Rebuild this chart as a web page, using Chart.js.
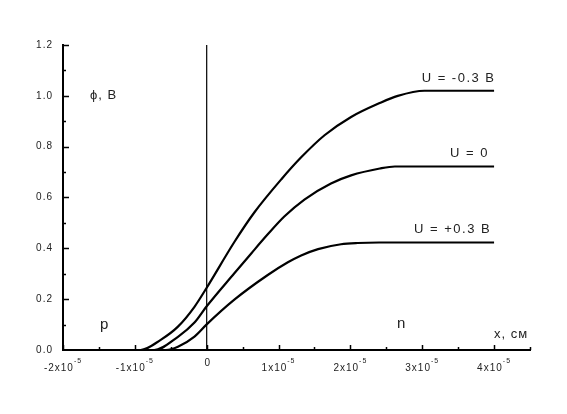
<!DOCTYPE html>
<html>
<head>
<meta charset="utf-8">
<script src="https://cdn.jsdelivr.net/npm/chart.js@4/dist/chart.umd.min.js"></script>
<style>
  html, body { margin: 0; padding: 0; background: #fff; }
  #wrap { width: 567px; height: 414px; }
</style>
</head>
<body>
<div id="wrap"><canvas id="phiChart"></canvas></div>
<script>
// x in cm, phi in V
const xMinus = [-2e-5, -0.92e-5, -0.64e-5, -0.4e-5, -0.17e-5, 0, 0.385e-5, 0.66e-5, 1.04e-5, 1.315e-5, 1.64e-5, 2.01e-5, 2.41e-5, 2.66e-5, 3.03e-5, 4e-5];
const phiMinus = [0, 0, 0.04, 0.092, 0.17, 0.245, 0.425, 0.54, 0.672, 0.758, 0.845, 0.917, 0.972, 1.0, 1.02, 1.02];

const xZero = [-2e-5, -0.73e-5, -0.4e-5, -0.17e-5, 0, 0.385e-5, 0.62e-5, 0.85e-5, 1.08e-5, 1.36e-5, 1.73e-5, 2.01e-5, 2.41e-5, 2.62e-5, 4e-5];
const phiZero = [0, 0, 0.052, 0.108, 0.172, 0.302, 0.38, 0.455, 0.525, 0.592, 0.655, 0.687, 0.714, 0.722, 0.722];

const xPlus = [-2e-5, -0.57e-5, -0.4e-5, -0.17e-5, 0, 0.385e-5, 0.85e-5, 1.13e-5, 1.315e-5, 1.55e-5, 1.87e-5, 2.1e-5, 2.4e-5, 4e-5];
const phiPlus = [0, 0, 0.013, 0.053, 0.101, 0.198, 0.295, 0.345, 0.372, 0.397, 0.416, 0.421, 0.423, 0.423];

const junctionX = [0, 0];
const junctionPhi = [0, 1.2];

const curveLabels = ['U = -0.3 В', 'U = 0', 'U = +0.3 В'];
const xTicks = [-2e-5, -1e-5, 0, 1e-5, 2e-5, 3e-5, 4e-5];
const xTickMantissa = ['-2', '-1', '0', '1', '2', '3', '4'];
const xTickExp = '-5';

const FONT = "Arial, 'Liberation Sans', sans-serif";

function pts(xs, ys) {
  return xs.map((v, i) => ({ x: v, y: ys[i] }));
}

function curve(xs, ys) {
  return {
    data: pts(xs, ys),
    showLine: true,
    borderColor: '#000',
    borderWidth: 2.2,
    pointRadius: 0,
    cubicInterpolationMode: 'monotone',
    fill: false
  };
}

const axisExtras = {
  id: 'axisExtras',
  beforeDraw(chart) {
    chart.ctx.letterSpacing = '1px';
  },
  afterDraw(chart) {
    const ctx = chart.ctx;
    const xs = chart.scales.x;
    const ys = chart.scales.y;
    const left = chart.chartArea.left;
    const bottom = chart.chartArea.bottom;
    ctx.save();
    ctx.strokeStyle = '#000';
    ctx.lineWidth = 1.5;
    ctx.beginPath();
    // inward ticks on x
    for (let k = -4; k <= 9; k++) {
      const px = Math.round(xs.getPixelForValue(k * 0.5e-5)) + 0.5;
      const len = k % 2 === 0 ? 5 : 3;
      ctx.moveTo(px, bottom);
      ctx.lineTo(px, bottom - len);
    }
    // inward ticks on y
    for (let k = 1; k <= 12; k++) {
      const py = Math.round(ys.getPixelForValue(k * 0.1)) + 0.5;
      const len = k % 2 === 0 ? 6 : 3;
      ctx.moveTo(left, py);
      ctx.lineTo(left + len, py);
    }
    ctx.stroke();

    // x tick labels with exponent
    ctx.fillStyle = '#222';
    ctx.letterSpacing = '1px';
    ctx.textBaseline = 'alphabetic';
    ctx.textAlign = 'left';
    xTicks.forEach((v, i) => {
      const px = xs.getPixelForValue(v);
      if (v === 0) {
        ctx.font = '10px ' + FONT;
        const w = ctx.measureText('0').width;
        ctx.fillText('0', px - w / 2 + 1, 366);
        return;
      }
      const main = xTickMantissa[i] + 'x10';
      ctx.font = '10px ' + FONT;
      const wm = ctx.measureText(main).width;
      ctx.font = '7px ' + FONT;
      const we = ctx.measureText(xTickExp).width;
      const start = px - (wm + we) / 2;
      ctx.font = '10px ' + FONT;
      ctx.fillText(main, start, 371);
      ctx.font = '7px ' + FONT;
      ctx.fillText(xTickExp, start + wm, 363);
    });

    // curve labels, right aligned above each plateau
    const plateaus = [phiMinus[phiMinus.length - 1], phiZero[phiZero.length - 1], phiPlus[phiPlus.length - 1]];
    const rightEdges = [4.02e-5, 3.93e-5, 3.96e-5];
    ctx.font = '13px ' + FONT;
    ctx.letterSpacing = '1.5px';
    ctx.textAlign = 'right';
    curveLabels.forEach((t, i) => {
      ctx.fillText(t, xs.getPixelForValue(rightEdges[i]), ys.getPixelForValue(plateaus[i]) - 9);
    });

    // axis titles and region names
    ctx.textAlign = 'left';
    ctx.letterSpacing = '1px';
    ctx.font = '13px ' + FONT;
    ctx.fillText('ϕ, В', 90, 99);
    ctx.fillText('x, см', 494, 338);
    ctx.font = '15px ' + FONT;
    ctx.fillText('p', 100, 329);
    ctx.fillText('n', 397, 328);
    ctx.restore();
  }
};

new Chart(document.getElementById('phiChart'), {
  type: 'scatter',
  data: {
    datasets: [
      curve(xMinus, phiMinus),
      curve(xZero, phiZero),
      curve(xPlus, phiPlus),
      {
        data: pts(junctionX, junctionPhi),
        showLine: true,
        borderColor: '#000',
        borderWidth: 1.2,
        pointRadius: 0
      }
    ]
  },
  options: {
    responsive: true,
    maintainAspectRatio: false,
    animation: false,
    layout: { padding: { top: 45, right: 37, left: 0, bottom: 0 } },
    plugins: {
      legend: { display: false },
      tooltip: { enabled: false }
    },
    scales: {
      x: {
        type: 'linear',
        min: -2e-5,
        max: 4.5e-5,
        grid: { display: false },
        border: { color: '#000', width: 2 },
        ticks: { display: false },
        afterFit: s => { s.height = 64; }
      },
      y: {
        min: 0,
        max: 1.2,
        grid: { display: false, drawTicks: false },
        border: { color: '#000', width: 2 },
        ticks: {
          stepSize: 0.2,
          color: '#222',
          padding: 10,
          font: { size: 10, family: FONT },
          callback: v => v.toFixed(1)
        },
        afterFit: s => { s.width = 63; }
      }
    }
  },
  plugins: [axisExtras]
});
</script>
</body>
</html>
